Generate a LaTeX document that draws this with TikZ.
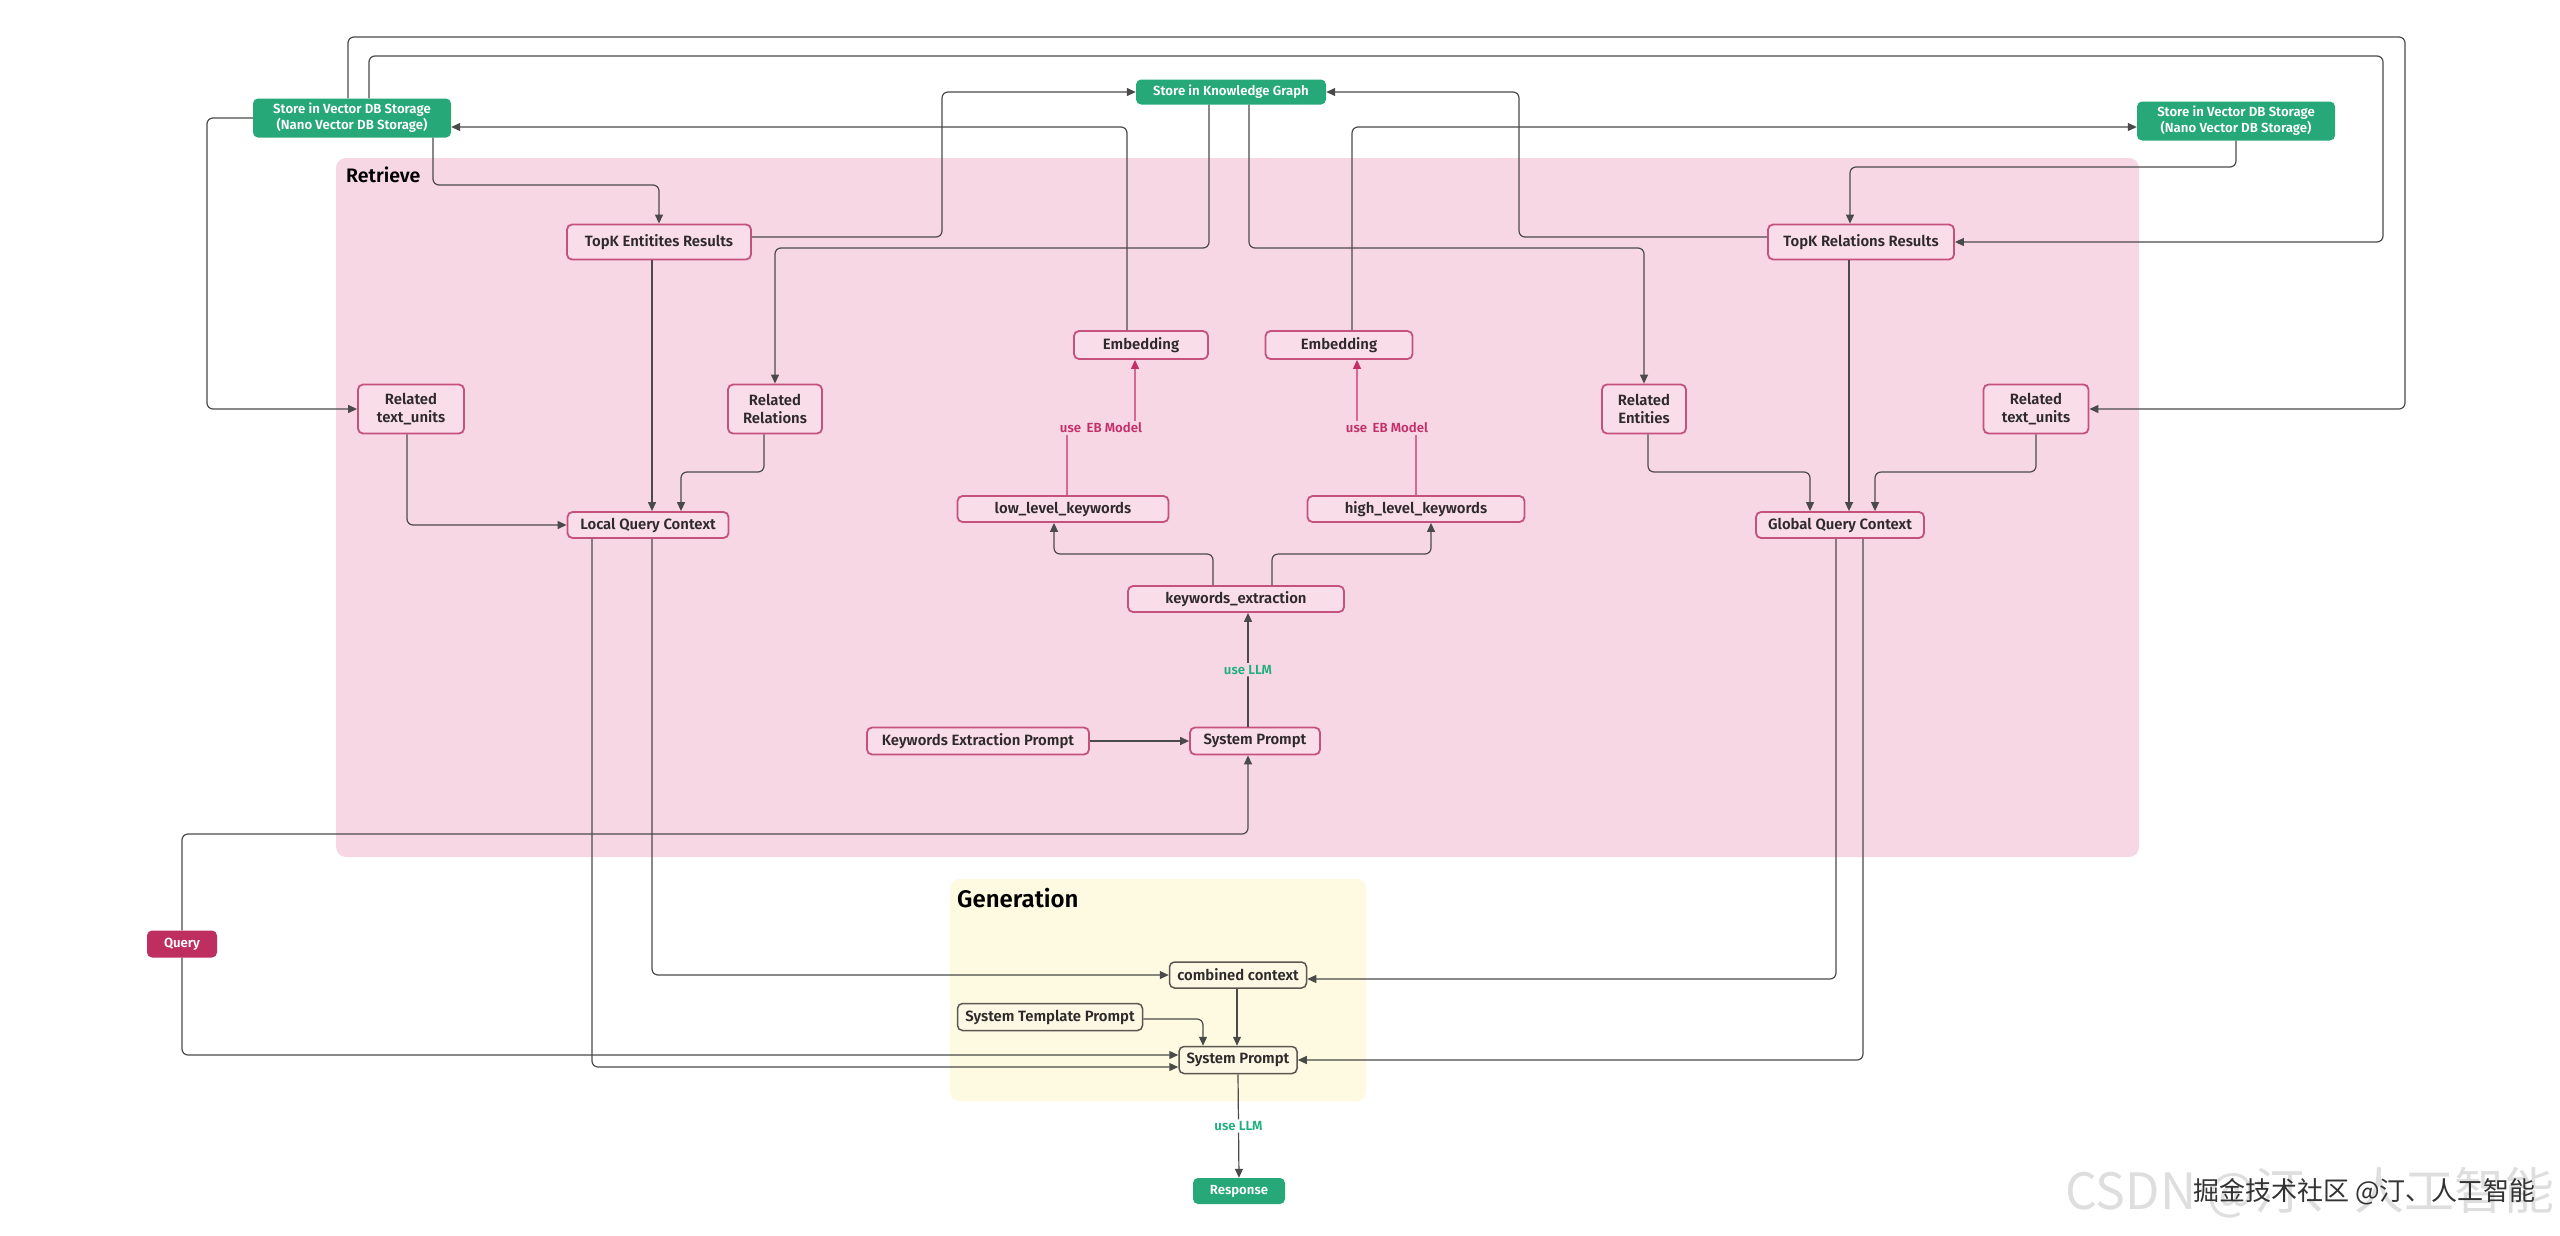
\documentclass[tikz,border=0pt]{standalone}
\usepackage{fontspec}
\setmainfont{Fira Sans}[BoldFont={Fira Sans SemiBold}]
\newfontfamily\cjk{Noto Sans CJK SC}
\usetikzlibrary{arrows.meta}
\definecolor{pinkbg}{HTML}{F8D7E5}
\definecolor{pinkfill}{HTML}{F9DDE8}
\definecolor{pinkline}{HTML}{C4527D}
\definecolor{magenta}{HTML}{BE2E5E}
\definecolor{ebtext}{HTML}{C2306A}
\definecolor{greennode}{HTML}{27A878}
\definecolor{llmgreen}{HTML}{1FAF7C}
\definecolor{yellowbg}{HTML}{FEF9E1}
\definecolor{yellowfill}{HTML}{FDF8E3}
\definecolor{genline}{HTML}{5A5650}
\definecolor{conncol}{HTML}{4A4A4A}
\definecolor{txt}{HTML}{2E2A2C}
\tikzset{
  basebox/.style={rounded corners=5pt, align=center, inner sep=0pt, font=\fontsize{14.9}{17.5}\selectfont\bfseries},
  pnode/.style={basebox, draw=pinkline, fill=pinkfill, line width=1.8pt, text=txt},
  ynode/.style={basebox, draw=genline, fill=yellowfill, line width=1.5pt, text=txt},
  gnode/.style={basebox, fill=greennode, text=white, font=\fontsize{13.2}{15.8}\selectfont\bfseries},
  qnode/.style={basebox, fill=magenta, text=white, font=\fontsize{13.2}{15.8}\selectfont\bfseries},
  conn/.style={draw=conncol, line width=1.2pt, rounded corners=6pt, -{Triangle[length=9pt,width=8pt]}},
  mconn/.style={draw=ebtext, line width=1.2pt, rounded corners=6pt, -{Triangle[length=9pt,width=8pt]}},
  eblbl/.style={fill=pinkbg, text=ebtext, inner sep=2pt, font=\fontsize{13.2}{15.5}\selectfont\bfseries},
  llmlbl/.style={text=llmgreen, inner sep=2pt, font=\fontsize{13.2}{15.5}\selectfont\bfseries},
  grouplbl/.style={anchor=west, text=black, inner sep=0pt, font=\bfseries}
}
\begin{document}
\begin{tikzpicture}[x=1pt,y=-1pt]
\useasboundingbox[fill=white] (0,0) rectangle (2560,1235);
% regions
\fill[pinkbg, rounded corners=10pt] (336,158) rectangle (2139,857);
\node[grouplbl, font=\fontsize{19.5}{23}\selectfont\bfseries] (retlbl) at (346,175) {Retrieve};
\fill[yellowbg, rounded corners=10pt] (950,879) rectangle (1366,1101);
\node[grouplbl, font=\fontsize{24}{28}\selectfont\bfseries] (genlbl) at (957,898) {Generation};

% nodes
\node[gnode, minimum width=198, minimum height=39] (vdbL) at (352,118) {Store in Vector DB Storage\\(Nano Vector DB Storage)};
\node[gnode, minimum width=190, minimum height=25] (kg) at (1231,92) {Store in Knowledge Graph};
\node[gnode, minimum width=198, minimum height=39] (vdbR) at (2236,121) {Store in Vector DB Storage\\(Nano Vector DB Storage)};
\node[pnode, minimum width=184, minimum height=35] (topE) at (659,242) {TopK Entitites Results};
\node[pnode, minimum width=186, minimum height=35] (topR) at (1861,242) {TopK Relations Results};
\node[pnode, minimum width=134, minimum height=28] (embL) at (1141,345) {Embedding};
\node[pnode, minimum width=147, minimum height=28] (embR) at (1339,345) {Embedding};
\node[pnode, minimum width=106, minimum height=49] (rtuL) at (411,409) {Related\\text\_units};
\node[pnode, minimum width=94, minimum height=49] (rrel) at (775,409) {Related\\Relations};
\node[pnode, minimum width=161, minimum height=26] (lqc) at (648,525) {Local Query Context};
\node[pnode, minimum width=211, minimum height=26] (low) at (1063,509) {low\_level\_keywords};
\node[pnode, minimum width=217, minimum height=26] (high) at (1416,509) {high\_level\_keywords};
\node[pnode, minimum width=84, minimum height=49] (rent) at (1644,409) {Related\\Entities};
\node[pnode, minimum width=105, minimum height=49] (rtuR) at (2036,409) {Related\\text\_units};
\node[pnode, minimum width=168, minimum height=26] (gqc) at (1840,525) {Global Query Context};
\node[pnode, minimum width=216, minimum height=26] (kwe) at (1236,599) {keywords\_extraction};
\node[pnode, minimum width=222, minimum height=27] (kep) at (978,741) {Keywords Extraction Prompt};
\node[pnode, minimum width=130, minimum height=27] (spR) at (1255,741) {System Prompt};
\node[qnode, minimum width=70, minimum height=27] (query) at (182,944) {Query};
\node[ynode, minimum width=137, minimum height=26] (cc) at (1238,975) {combined context};
\node[ynode, minimum width=185, minimum height=27] (stp) at (1050,1017) {System Template Prompt};
\node[ynode, minimum width=118, minimum height=27] (spG) at (1238,1060) {System Prompt};
\node[gnode, minimum width=92, minimum height=26] (resp) at (1239,1191) {Response};

% connectors
\draw[conn] (vdbL.north -| 348,0) |- (2405,37) |- (rtuR.east);
\draw[conn] (vdbL.north -| 369,0) |- (2383,56) |- (topR.east);
\draw[conn] (vdbL.west) -| (207,409) -- (rtuL.west);
\draw[conn] (vdbL.south -| 433,0) |- (topE.north |- 0,185) -- (topE.north);
\draw[conn] (topE.east |- 0,237) -| (942,150) |- (kg.west);
\draw[conn] (embL.north -| 1127,0) |- ([yshift=-9pt]vdbL.east);
\draw[conn] (kg.south -| 1209,0) |- (rrel.north |- 0,248) -- (rrel.north);
\draw[conn] (kg.south -| 1249,0) |- (rent.north |- 0,248) -- (rent.north);
\draw[conn] (topR.west |- 0,237) -| (1519,150) |- (kg.east);
\draw[conn] (embR.north -| 1352,0) |- ([yshift=-6pt]vdbR.west);
\draw[conn] (vdbR.south) |- ([xshift=-11pt]topR.north |- 0,167) -- ([xshift=-11pt]topR.north);
\draw[conn] (topE.south -| 652,0) -- (lqc.north -| 652,0);
\draw[conn] (rrel.south -| 764,0) |- (681,472) -- (lqc.north -| 681,0);
\draw[conn] (rtuL.south -| 407,0) |- (lqc.west);
\draw[mconn] (low.north -| 1067,0) |- (1135,428) -- (embL.south -| 1135,0);
\node[eblbl] (eb1) at (1101,428) {use\, EB Model};
\draw[mconn] (high.north -| 1416,0) |- (1357,428) -- (embR.south -| 1357,0);
\node[eblbl] (eb2) at (1387,428) {use\, EB Model};
\draw[conn] (kwe.north -| 1213,0) |- (1054,554) -- (low.south -| 1054,0);
\draw[conn] (kwe.north -| 1272,0) |- (1431,554) -- (high.south -| 1431,0);
\draw[conn] (spR.north -| 1248,0) -- (kwe.south -| 1248,0) node[llmlbl, fill=pinkbg, pos=0.5] (llm1) {use LLM};
\draw[conn] (kep.east) -- (spR.west);
\draw[conn] (query.north) |- (1248,834) -- (spR.south -| 1248,0);
\draw[conn] (query.south) |- ([yshift=5pt]spG.west);
\draw[conn] (lqc.south -| 592,0) |- ([yshift=-7pt]spG.west);
\draw[conn] (lqc.south -| 652,0) |- (cc.west);
\draw[conn] (gqc.south -| 1836,0) |- ([yshift=-4pt]cc.east);
\draw[conn] (gqc.south -| 1863,0) |- (spG.east);
\draw[conn] (rent.south -| 1648,0) |- (1810,472) -- (gqc.north -| 1810,0);
\draw[conn] (topR.south -| 1849,0) -- (gqc.north -| 1849,0);
\draw[conn] (rtuR.south -| 2036,0) |- (1875,472) -- (gqc.north -| 1875,0);
\draw[conn] (cc.south -| 1237,0) -- (spG.north -| 1237,0);
\draw[conn] (stp.east |- 0,1019) -| (spG.north -| 1203,0);
\draw[conn] (spG.south) -- (resp.north) node[llmlbl, fill=white, pos=0.5] (llm2) {use LLM};

% watermark
\node[anchor=west, inner sep=0pt, text=black!13, font=\cjk\fontsize{50}{56}\selectfont] (wm1) at (2065,1193) {CSDN @汀、人工智能};
\node[anchor=west, inner sep=0pt, text=black!80, font=\cjk\fontsize{26}{30}\selectfont] (wm2) at (2193,1192) {掘金技术社区 @汀、人工智能};
\end{tikzpicture}
\end{document}
